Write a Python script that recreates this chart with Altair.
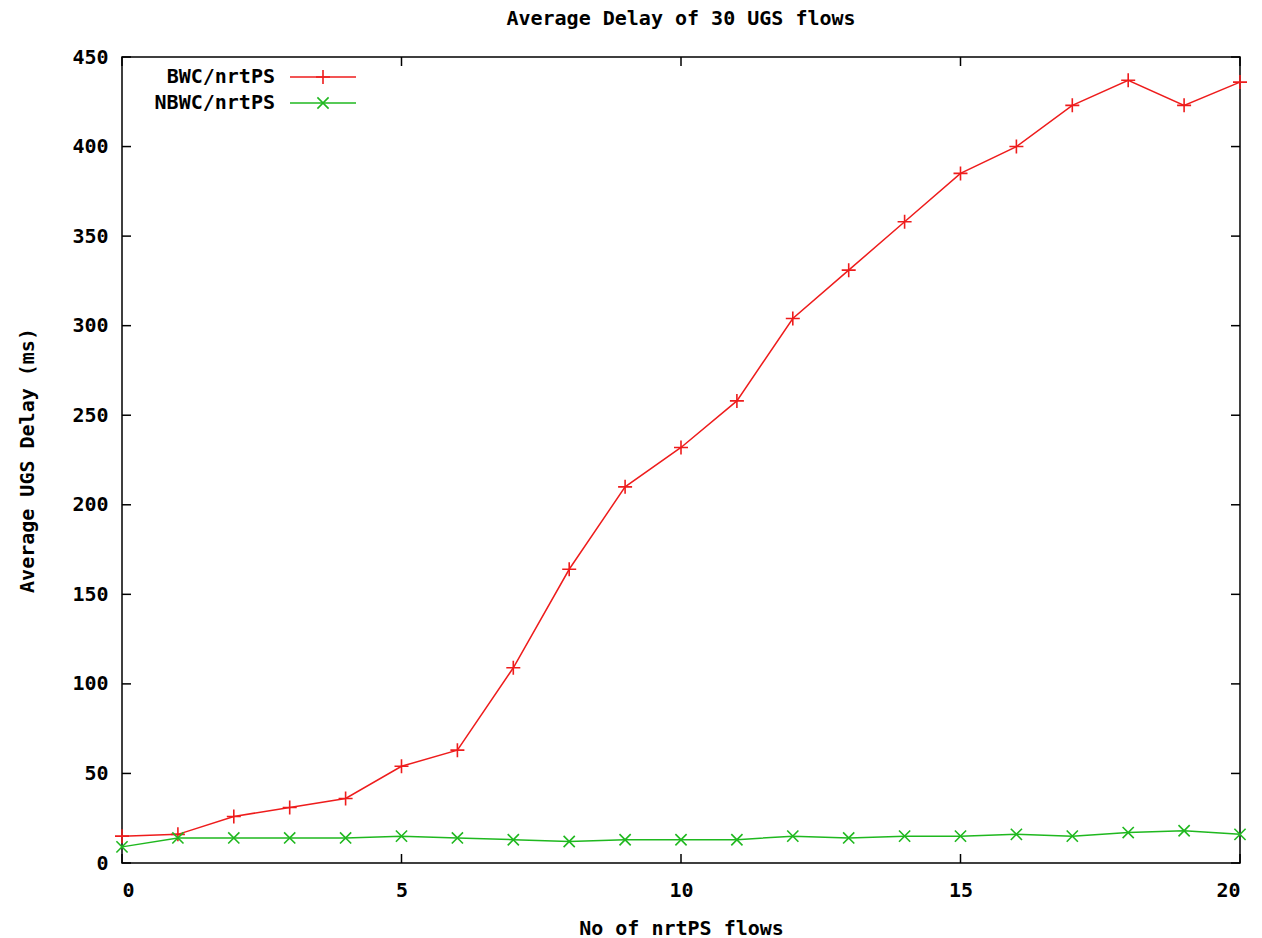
import altair as alt
import pandas as pd

x_vals = list(range(21))
bwc = [15, 16, 26, 31, 36, 54, 63, 109, 164, 210, 232, 258, 304, 331, 358, 385, 400, 423, 437, 423, 436]
nbwc = [9, 14, 14, 14, 14, 15, 14, 13, 12, 13, 13, 13, 15, 14, 15, 15, 16, 15, 17, 18, 16]
series_names = ["BWC/nrtPS", "NBWC/nrtPS"]
series_colors = ["#ee1c1c", "#1fb81f"]
y_ticks = [0, 50, 100, 150, 200, 250, 300, 350, 400, 450]
x_ticks = [0, 5, 10, 15, 20]

title_text = "Average Delay of 30 UGS flows"
x_title = "No of nrtPS flows"
y_title = "Average UGS Delay (ms)"

W, H = 1118, 806
FONT = "DejaVu Sans Mono"
PLUS = "M-1,0L1,0M0,-1L0,1"
CROSS = "M-0.8,-0.8L0.8,0.8M-0.8,0.8L0.8,-0.8"

df = pd.DataFrame({
    "x": x_vals * 2,
    "y": bwc + nbwc,
    "series": [series_names[0]] * len(x_vals) + [series_names[1]] * len(x_vals),
})
yt = pd.DataFrame({"v": y_ticks})
xt = pd.DataFrame({"v": x_ticks})
leg = pd.DataFrame({"series": series_names})

xs = alt.Scale(domain=[0, 20], nice=False, zero=False)
ys = alt.Scale(domain=[0, 450], nice=False)
cs = alt.Scale(domain=series_names, range=series_colors)

base = alt.Chart(df)
lines = base.mark_line(strokeWidth=1.5).encode(
    x=alt.X("x:Q", scale=xs, title=x_title,
            axis=alt.Axis(values=x_ticks, format="d", ticks=False, domain=False, grid=False,
                          labelPadding=17, titlePadding=18)),
    y=alt.Y("y:Q", scale=ys, title=y_title,
            axis=alt.Axis(values=y_ticks, format="d", ticks=False, domain=False, grid=False,
                          labelPadding=14, titlePadding=34)),
    color=alt.Color("series:N", scale=cs, legend=None),
)
pts_b = base.transform_filter(alt.datum.series == series_names[0]).mark_point(
    shape=PLUS, filled=False, strokeWidth=1.6, size=196, opacity=1
).encode(x=alt.X("x:Q", scale=xs), y=alt.Y("y:Q", scale=ys),
         color=alt.Color("series:N", scale=cs, legend=None))
pts_n = base.transform_filter(alt.datum.series == series_names[1]).mark_point(
    shape=CROSS, filled=False, strokeWidth=1.6, size=196, opacity=1
).encode(x=alt.X("x:Q", scale=xs), y=alt.Y("y:Q", scale=ys),
         color=alt.Color("series:N", scale=cs, legend=None))

TL = 9
ytl = alt.Chart(yt).mark_rule(color="black", strokeWidth=1.5).encode(
    y=alt.Y("v:Q", scale=ys), x=alt.value(0), x2=alt.value(TL))
ytr = alt.Chart(yt).mark_rule(color="black", strokeWidth=1.5).encode(
    y=alt.Y("v:Q", scale=ys), x=alt.value(W - TL), x2=alt.value(W))
xtb = alt.Chart(xt).mark_rule(color="black", strokeWidth=1.5).encode(
    x=alt.X("v:Q", scale=xs), y=alt.value(H), y2=alt.value(H - TL))
xtt = alt.Chart(xt).mark_rule(color="black", strokeWidth=1.5).encode(
    x=alt.X("v:Q", scale=xs), y=alt.value(0), y2=alt.value(TL))

legend_layers = []
for i, (name, col, shp) in enumerate(zip(series_names, series_colors, [PLUS, CROSS])):
    ly = 20 + 26 * i
    ld = alt.Chart(leg).transform_filter(alt.datum.series == name)
    legend_layers.append(ld.mark_text(align="right", baseline="middle", font=FONT,
                                      fontWeight="bold", fontSize=20, color="black").encode(
        text="series:N", x=alt.value(153), y=alt.value(ly)))
    legend_layers.append(ld.mark_rule(color=col, strokeWidth=1.5).encode(
        x=alt.value(168), x2=alt.value(234), y=alt.value(ly)))
    legend_layers.append(ld.mark_point(shape=shp, filled=False, strokeWidth=1.6, size=196,
                                       color=col, opacity=1).encode(
        x=alt.value(201), y=alt.value(ly)))

chart = alt.layer(lines, pts_b, pts_n, ytl, ytr, xtb, xtt, *legend_layers).properties(
    width=W, height=H,
    title=alt.TitleParams(title_text, font=FONT, fontSize=20, fontWeight="bold",
                          color="black", offset=18, anchor="middle"),
    autosize=alt.AutoSizeParams(type="none"),
    padding={"left": 114, "top": 49, "right": 14, "bottom": 80},
    background="white",
).configure_view(stroke="black", strokeWidth=1.5).configure_axis(
    labelFont=FONT, labelFontSize=20, labelFontWeight="bold", labelColor="black",
    titleFont=FONT, titleFontSize=20, titleFontWeight="bold", titleColor="black",
)

chart.save("out.html", embed_options={"renderer": "svg", "actions": False})
